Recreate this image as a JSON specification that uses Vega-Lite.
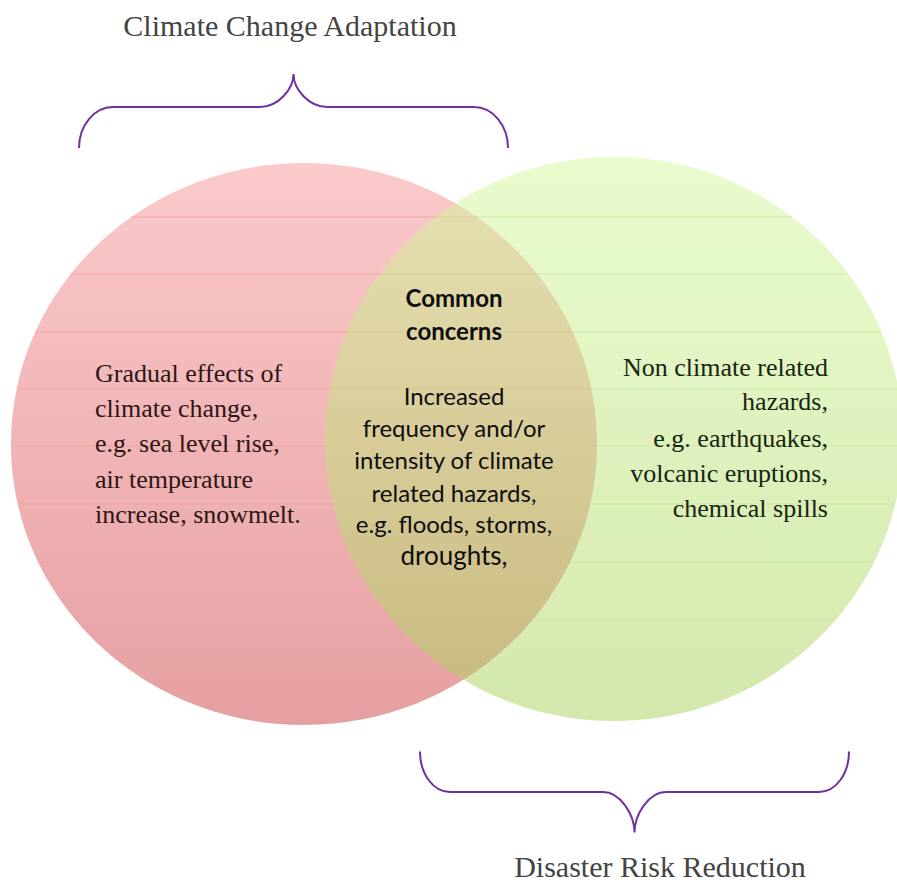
{
  "$schema": "https://vega.github.io/schema/vega-lite/v6.json",
  "width": 897,
  "height": 882,
  "autosize": {"type": "none"},
  "padding": 0,
  "background": "white",
  "config": {"view": {"stroke": null}},
  "datasets": {
    "ellipses": [
      {"set": "CCA", "x": 304, "y": 444},
      {"set": "DRR", "x": 614, "y": 439}
    ],
    "braces": [
      {"set": "top", "x": 293.5, "y": 107},
      {"set": "bottom", "x": 634.5, "y": 792}
    ],
    "lines": [
      {"set": "CCA", "y": 217, "x": 131, "x2": 477},
      {"set": "CCA", "y": 274, "x": 71, "x2": 537},
      {"set": "CCA", "y": 332, "x": 35, "x2": 573},
      {"set": "CCA", "y": 389, "x": 17, "x2": 591},
      {"set": "CCA", "y": 446, "x": 11, "x2": 597},
      {"set": "CCA", "y": 504, "x": 18, "x2": 590},
      {"set": "CCA", "y": 562, "x": 38, "x2": 570},
      {"set": "CCA", "y": 619, "x": 75, "x2": 533},
      {"set": "CCA", "y": 677, "x": 140, "x2": 468},
      {"set": "DRR", "y": 217, "x": 477, "x2": 792},
      {"set": "DRR", "y": 274, "x": 537, "x2": 848},
      {"set": "DRR", "y": 332, "x": 573, "x2": 881},
      {"set": "DRR", "y": 389, "x": 591, "x2": 897},
      {"set": "DRR", "y": 446, "x": 597, "x2": 897},
      {"set": "DRR", "y": 504, "x": 590, "x2": 895},
      {"set": "DRR", "y": 562, "x": 570, "x2": 874},
      {"set": "DRR", "y": 619, "x": 533, "x2": 837},
      {"set": "DRR", "y": 677, "x": 468, "x2": 769}
    ],
    "labels": [
      {"grp": "title", "x": 290, "y": 36, "text": "Climate Change Adaptation"},
      {"grp": "title", "x": 660, "y": 877, "text": "Disaster Risk Reduction"},
      {"grp": "left", "x": 95, "y": 382, "text": "Gradual effects of"},
      {"grp": "left", "x": 95, "y": 417, "text": "climate change,"},
      {"grp": "left", "x": 95, "y": 452, "text": "e.g. sea level rise,"},
      {"grp": "left", "x": 95, "y": 488, "text": "air temperature"},
      {"grp": "left", "x": 95, "y": 523, "text": "increase, snowmelt."},
      {"grp": "right", "x": 828, "y": 376, "text": "Non climate related"},
      {"grp": "right", "x": 828, "y": 410, "text": "hazards,"},
      {"grp": "right", "x": 828, "y": 447, "text": "e.g. earthquakes,"},
      {"grp": "right", "x": 828, "y": 482, "text": "volcanic eruptions,"},
      {"grp": "right", "x": 828, "y": 517, "text": "chemical spills"},
      {"grp": "head", "x": 454, "y": 307, "text": "Common"},
      {"grp": "head", "x": 454, "y": 340, "text": "concerns"},
      {"grp": "center", "x": 454, "y": 405, "text": "Increased"},
      {"grp": "center", "x": 454, "y": 437, "text": "frequency and/or"},
      {"grp": "center", "x": 454, "y": 469, "text": "intensity of climate"},
      {"grp": "center", "x": 454, "y": 502, "text": "related hazards,"},
      {"grp": "center", "x": 454, "y": 533, "text": "e.g. floods, storms,"},
      {"grp": "last", "x": 454, "y": 565, "text": "droughts,"}
    ]
  },
  "encoding": {
    "x": {"field": "x", "type": "quantitative", "scale": {"domain": [0, 897], "nice": false, "zero": false}, "axis": null},
    "y": {"field": "y", "type": "quantitative", "scale": {"domain": [0, 882], "nice": false, "zero": false, "reverse": true}, "axis": null}
  },
  "layer": [
    {
      "data": {"name": "ellipses"},
      "transform": [{"filter": "datum.set === 'CCA'"}],
      "mark": {
        "type": "point", "filled": true, "opacity": 1, "strokeWidth": 0, "size": 343396,
        "shape": "M -1 0 C -1 -0.5297 -0.5523 -0.959 0 -0.959 C 0.5523 -0.959 1 -0.5297 1 0 C 1 0.5297 0.5523 0.959 0 0.959 C -0.5523 0.959 -1 0.5297 -1 0 Z",
        "fill": {"gradient": "linear", "x1": 0, "y1": 0, "x2": 0, "y2": 1, "stops": [{"offset": 0, "color": "#fbcacb"}, {"offset": 1, "color": "#e69fa1"}]}
      }
    },
    {
      "data": {"name": "lines"},
      "transform": [{"filter": "datum.set === 'CCA'"}],
      "mark": {"type": "rule", "color": "#f2a4a7", "strokeWidth": 1},
      "encoding": {"x2": {"field": "x2"}}
    },
    {
      "data": {"name": "ellipses"},
      "transform": [{"filter": "datum.set === 'DRR'"}],
      "mark": {
        "type": "point", "filled": true, "opacity": 0.5, "strokeWidth": 0, "size": 334084,
        "shape": "M -1 0 C -1 -0.539 -0.5523 -0.9758 0 -0.9758 C 0.5523 -0.9758 1 -0.539 1 0 C 1 0.539 0.5523 0.9758 0 0.9758 C -0.5523 0.9758 -1 0.539 -1 0 Z",
        "fill": {"gradient": "linear", "x1": 0, "y1": 0, "x2": 0, "y2": 1, "stops": [{"offset": 0, "color": "#d5f99d"}, {"offset": 1, "color": "#a8d05a"}]}
      }
    },
    {
      "data": {"name": "lines"},
      "transform": [{"filter": "datum.set === 'DRR'"}],
      "mark": {"type": "rule", "color": "#cfe9a6", "strokeWidth": 1},
      "encoding": {"x2": {"field": "x2"}}
    },
    {
      "data": {"name": "braces"},
      "transform": [{"filter": "datum.set === 'top'"}],
      "mark": {
        "type": "point", "filled": false, "opacity": 1, "color": "#7030a0", "strokeWidth": 2, "size": 184041,
        "shape": "M -1 0.1911 C -1 0.0858 -0.9291 0 -0.8415 0 L -0.1562 0 C -0.0699 0 0 -0.0849 0 -0.1538 C 0 -0.0849 0.0699 0 0.1562 0 L 0.8415 0 C 0.9291 0 1 0.0858 1 0.1911"
      }
    },
    {
      "data": {"name": "braces"},
      "transform": [{"filter": "datum.set === 'bottom'"}],
      "mark": {
        "type": "point", "filled": false, "opacity": 1, "color": "#7030a0", "strokeWidth": 2, "size": 184041,
        "shape": "M -1 -0.1888 C -1 -0.0833 -0.9375 0 -0.8601 0 L -0.1469 0 C -0.0657 0 0 0.1054 0 0.1888 C 0 0.1054 0.0657 0 0.1469 0 L 0.8601 0 C 0.9375 0 1 -0.0833 1 -0.1888"
      }
    },
    {
      "data": {"name": "labels"},
      "transform": [{"filter": "datum.grp === 'title'"}],
      "mark": {"type": "text", "font": "Liberation Serif", "fontSize": 30, "color": "#444444", "align": "center", "baseline": "alphabetic"},
      "encoding": {"text": {"field": "text"}}
    },
    {
      "data": {"name": "labels"},
      "transform": [{"filter": "datum.grp === 'left'"}],
      "mark": {"type": "text", "font": "Liberation Serif", "fontSize": 26, "color": "#2e1515", "align": "left", "baseline": "alphabetic"},
      "encoding": {"text": {"field": "text"}}
    },
    {
      "data": {"name": "labels"},
      "transform": [{"filter": "datum.grp === 'right'"}],
      "mark": {"type": "text", "font": "Liberation Serif", "fontSize": 26, "color": "#172412", "align": "right", "baseline": "alphabetic"},
      "encoding": {"text": {"field": "text"}}
    },
    {
      "data": {"name": "labels"},
      "transform": [{"filter": "datum.grp === 'head'"}],
      "mark": {"type": "text", "font": "Lato", "fontSize": 24, "fontWeight": "bold", "color": "#0d0d0d", "align": "center", "baseline": "alphabetic"},
      "encoding": {"text": {"field": "text"}}
    },
    {
      "data": {"name": "labels"},
      "transform": [{"filter": "datum.grp === 'center'"}],
      "mark": {"type": "text", "font": "Lato", "fontSize": 24, "color": "#0d0d0d", "align": "center", "baseline": "alphabetic"},
      "encoding": {"text": {"field": "text"}}
    },
    {
      "data": {"name": "labels"},
      "transform": [{"filter": "datum.grp === 'last'"}],
      "mark": {"type": "text", "font": "Lato", "fontSize": 26, "color": "#0d0d0d", "align": "center", "baseline": "alphabetic"},
      "encoding": {"text": {"field": "text"}}
    }
  ]
}
